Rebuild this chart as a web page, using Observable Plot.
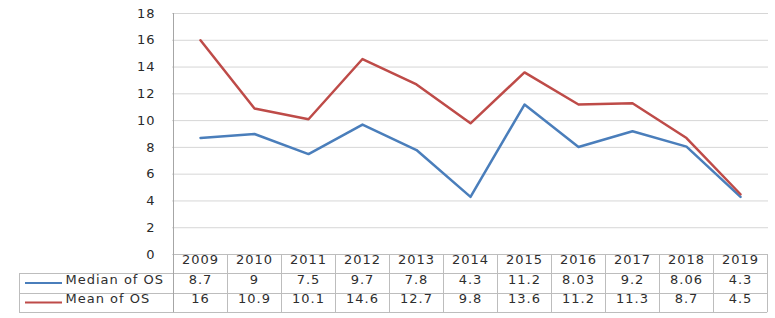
<!DOCTYPE html>
<html>
<head>
<meta charset="utf-8">
<script src="https://cdn.jsdelivr.net/npm/d3@7"></script>
<script src="https://cdn.jsdelivr.net/npm/@observablehq/plot@0.6"></script>
<style>
  html, body { margin: 0; padding: 0; background: #fff; }
  #chart svg { display: block; }
</style>
</head>
<body>
<div id="chart"></div>
<script>
// ---- data ----
const years = ["2009","2010","2011","2012","2013","2014","2015","2016","2017","2018","2019"];
const medianOS = [8.7, 9, 7.5, 9.7, 7.8, 4.3, 11.2, 8.03, 9.2, 8.06, 4.3];
const meanOS   = [16, 10.9, 10.1, 14.6, 12.7, 9.8, 13.6, 11.2, 11.3, 8.7, 4.5];
const medianLabels = ["8.7","9","7.5","9.7","7.8","4.3","11.2","8.03","9.2","8.06","4.3"];
const meanLabels   = ["16","10.9","10.1","14.6","12.7","9.8","13.6","11.2","11.3","8.7","4.5"];
const seriesNames = ["Median of OS", "Mean of OS"];
const seriesColors = ["#4A7EBB", "#BE4B48"];
const yTicks = [0, 2, 4, 6, 8, 10, 12, 14, 16, 18];

// ---- derived tables ----
const long = [
  ...years.map((yr, i) => ({year: yr, value: medianOS[i], series: seriesNames[0]})),
  ...years.map((yr, i) => ({year: yr, value: meanOS[i], series: seriesNames[1]}))
];

const FONT = "DejaVu Sans";
const textColor = "#2e2e2e";
const borderColor = "#bdbdbd";
const rowH = 19.4;               // table row height
const headerDy = rowH / 2;
const medianDy = rowH * 1.5;
const meanDy = rowH * 2.5;
const labelColumnLeft = 19;

// custom mark: the data-table grid and legend keys, positioned via the x scale
function tableGrid(index, scales, values, dimensions, context) {
  const {height, marginBottom, marginTop} = dimensions;
  const x = scales.x;
  const step = x(years[1]) - x(years[0]);
  const bottom = height - marginBottom;
  const g = d3.create("svg:g").attr("fill", "none").attr("stroke", borderColor).attr("stroke-width", 1);
  const left = x(years[0]) - step / 2;
  const right = x(years[years.length - 1]) + step / 2;
  const tableBottom = bottom + rowH * 3;
  g.append("line").attr("x1", left).attr("x2", right).attr("y1", bottom + 0.5).attr("y2", bottom + 0.5);
  for (let r = 1; r <= 3; r++) {
    const yy = Math.round(bottom + rowH * r) + 0.5;
    g.append("line").attr("x1", labelColumnLeft).attr("x2", right).attr("y1", yy).attr("y2", yy);
  }
  years.forEach((yr, i) => {
    if (i === 0) return;
    const xx = Math.round(x(yr) - step / 2) + 0.5;
    g.append("line").attr("x1", xx).attr("x2", xx).attr("y1", bottom).attr("y2", tableBottom);
  });
  g.append("line").attr("x1", Math.round(right) + 0.5).attr("x2", Math.round(right) + 0.5).attr("y1", bottom).attr("y2", tableBottom);
  g.append("line").attr("x1", labelColumnLeft + 0.5).attr("x2", labelColumnLeft + 0.5)
    .attr("y1", Math.round(bottom + rowH)).attr("y2", tableBottom);
  g.append("line").attr("x1", Math.round(left) + 0.5).attr("x2", Math.round(left) + 0.5)
    .attr("y1", marginTop).attr("y2", tableBottom).attr("stroke", "#a6a6a6");
  seriesNames.forEach((s, i) => {
    const yy = bottom + rowH * (1.5 + i);
    g.append("line").attr("x1", 25).attr("x2", 62).attr("y1", yy).attr("y2", yy)
      .attr("stroke", seriesColors[i]).attr("stroke-width", 2);
  });
  return g.node();
}

const FS = 13;
const textOpts = {fontSize: FS, fill: textColor, frameAnchor: "bottom"};

const chart = Plot.plot({
  width: 775,
  height: 318,
  marginLeft: 172,
  marginRight: 7,
  marginTop: 13,
  marginBottom: 64,
  style: {fontFamily: FONT, fontSize: FS + "px", letterSpacing: "1px", color: textColor, background: "#fff"},
  x: {type: "point", domain: years, padding: 0.5, axis: null},
  y: {domain: [0, 18], axis: null},
  color: {domain: seriesNames, range: seriesColors},
  marks: [
    Plot.gridY(yTicks, {stroke: "#d6d6d6", strokeOpacity: 1}),
    Plot.axisY(yTicks, {label: null, tickSize: 0, tickPadding: 17, fontSize: FS, fill: "#2a2a2a"}),
    tableGrid,
    Plot.line(long, {x: "year", y: "value", z: "series", stroke: "series", strokeWidth: 2.5, strokeLinejoin: "round"}),
    Plot.text(years, {x: d => d, text: d => d, dy: headerDy, ...textOpts}),
    Plot.text(years, {x: d => d, text: (d, i) => medianLabels[i], dy: medianDy, ...textOpts}),
    Plot.text(years, {x: d => d, text: (d, i) => meanLabels[i], dy: meanDy, ...textOpts}),
    Plot.text([seriesNames[0]], {text: d => d, frameAnchor: "bottom-left", dx: 65 - 172, dy: medianDy, textAnchor: "start", fontSize: FS, fill: textColor}),
    Plot.text([seriesNames[1]], {text: d => d, frameAnchor: "bottom-left", dx: 65 - 172, dy: meanDy, textAnchor: "start", fontSize: FS, fill: textColor})
  ]
});

document.getElementById("chart").append(chart);
</script>
</body>
</html>
